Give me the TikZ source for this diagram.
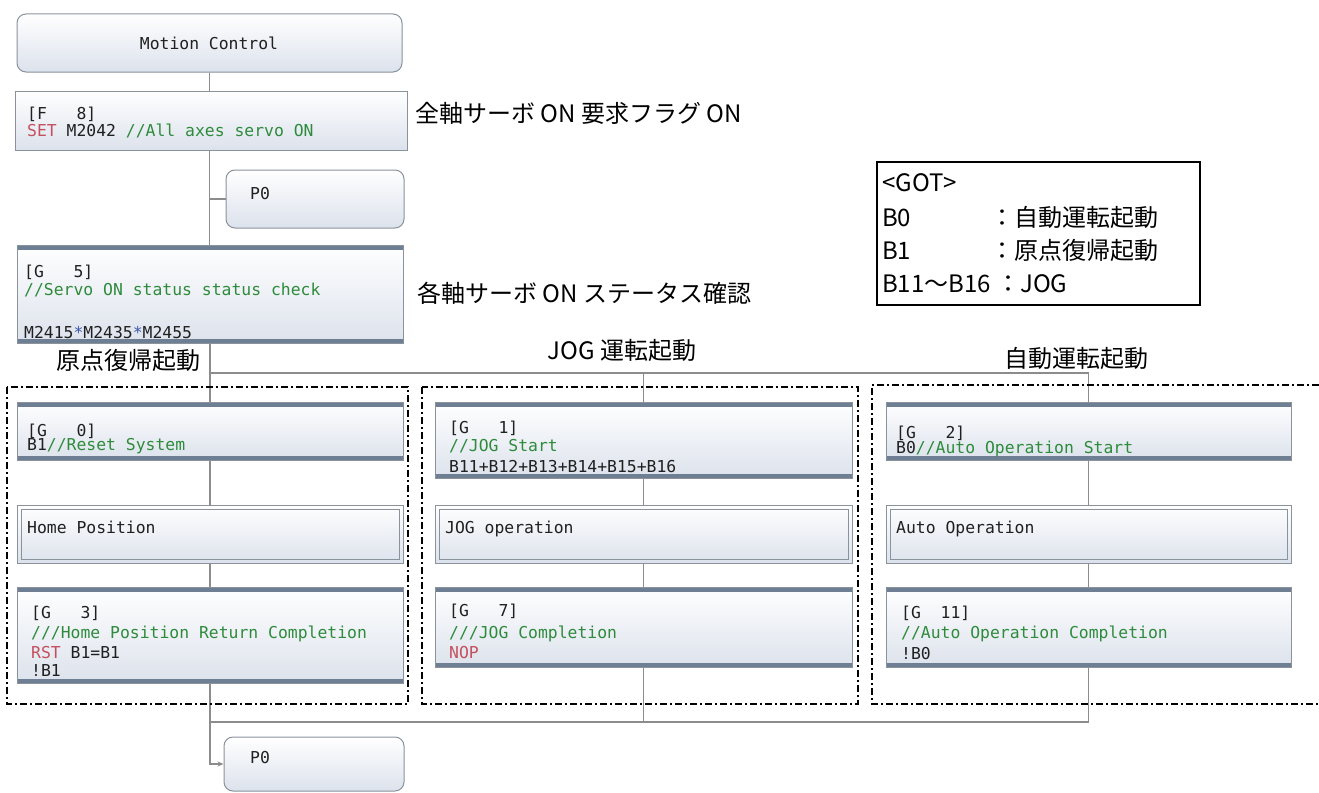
\documentclass[tikz,border=0pt]{standalone}
\usepackage{fontspec}
\setmonofont{DejaVu Sans Mono}
\newfontfamily\jp{Noto Sans CJK JP}
\usetikzlibrary{arrows.meta}
\definecolor{edge}{HTML}{8A929C}
\definecolor{barc}{HTML}{6E7E93}
\definecolor{boxbot}{HTML}{DCE2EC}
\definecolor{wire}{HTML}{8C8C8C}
\definecolor{kw}{HTML}{C4505E}
\definecolor{cmt}{HTML}{2E8B3C}
\definecolor{opc}{HTML}{3A55A8}
\definecolor{ink}{HTML}{202020}
\tikzset{
  boxbase/.style={rectangle, draw=edge, line width=1pt, top color=white, bottom color=boxbot, inner sep=0pt},
  rbox/.style={boxbase, rounded corners=9pt},
  plainbox/.style={boxbase},
  gbox/.style={boxbase, path picture={
     \fill[barc] (path picture bounding box.north west) rectangle ([yshift=-5pt]path picture bounding box.north east);
     \fill[barc] ([yshift=4pt]path picture bounding box.south west) rectangle (path picture bounding box.south east);}},
  subbox/.style={boxbase, path picture={
     \draw[edge, line width=1pt] ([shift={(4pt,-4pt)}]path picture bounding box.north west) rectangle ([shift={(-4pt,4pt)}]path picture bounding box.south east);}},
  mono/.style={font=\ttfamily\fontsize{16.4}{19}\selectfont, text=ink, inner sep=0pt, anchor=west, text height=12pt, text depth=0pt},
  jpl/.style={font=\jp\fontsize{24}{28}\selectfont, text=black, inner sep=0pt, anchor=west, text height=18pt, text depth=0pt},
  wire/.style={draw=wire, line width=1.3pt},
  dashdot/.style={draw=black, line width=1.3pt, dash pattern=on 7pt off 3pt on 2pt off 3pt}
}
\begin{document}
\begin{tikzpicture}[x=1pt,y=-1pt]
\useasboundingbox (0,0) rectangle (1319,792);
\fill[white] (0,0) rectangle (1319,792);

% ---- boxes ----
\node[rbox, minimum width=385pt, minimum height=58pt] (mc) at (209.5,43) {};
\node[plainbox, minimum width=392pt, minimum height=59pt] (f8) at (211,120.5) {};
\node[rbox, minimum width=178pt, minimum height=58pt] (p0a) at (315,199) {};
\node[gbox, minimum width=386pt, minimum height=98pt] (g5) at (210,294) {};

\node[gbox, minimum width=386pt, minimum height=58pt] (g0) at (210,431) {};
\node[subbox, minimum width=386pt, minimum height=58pt] (home) at (210,534) {};
\node[gbox, minimum width=386pt, minimum height=96pt] (g3) at (210,635) {};

\node[gbox, minimum width=417pt, minimum height=76pt] (g1) at (643.5,440) {};
\node[subbox, minimum width=417pt, minimum height=58pt] (jogop) at (643.5,534) {};
\node[gbox, minimum width=417pt, minimum height=80pt] (g7) at (643.5,627) {};

\node[gbox, minimum width=405pt, minimum height=58pt] (g2) at (1088.5,431) {};
\node[subbox, minimum width=405pt, minimum height=58pt] (auto) at (1088.5,534) {};
\node[gbox, minimum width=405pt, minimum height=80pt] (g11) at (1088.5,627) {};

\node[rbox, minimum width=180pt, minimum height=54pt] (p0b) at (314,764) {};

% ---- connectors ----
\coordinate (br) at (210,373);
\coordinate (mg) at (210,722);
\draw[wire] (mc.south) -- (mc.south |- f8.north);
\draw[wire] (mc.south |- f8.south) -- (mc.south |- g5.north);
\draw[wire] (mc.south |- p0a.west) -- (p0a.west);
\draw[wire] (g5.south) -- (g0.north);
\draw[wire] (g5.south |- br) -| (g2.north);
\draw[wire] (g1.north |- br) -- (g1.north);
\draw[wire] (g0.south) -- (home.north);
\draw[wire] (home.south) -- (g3.north);
\draw[wire] (g1.south) -- (jogop.north);
\draw[wire] (jogop.south) -- (g7.north);
\draw[wire] (g2.south) -- (auto.north);
\draw[wire] (auto.south) -- (g11.north);
\draw[wire, -{Stealth[length=6pt,width=5pt]}] (g3.south) |- (p0b.west);
\draw[wire] (g3.south |- mg) -| (g11.south);
\draw[wire] (g7.south) -- (g7.south |- mg);

% ---- box texts ----
\node[mono, anchor=center] (mct) at (209,43) {Motion Control};
\node[mono] (f8a) at (27,113) {[F~~~8]};
\node[mono] (f8b) at (27,130) {{\color{kw}SET} M2042 {\color{cmt}//All axes servo ON}};
\node[mono] (p0at) at (250,193) {P0};
\node[mono] (g5a) at (24,271) {[G~~~5]};
\node[mono] (g5b) at (24,289) {\color{cmt}//Servo ON status status check};
\node[mono] (g5c) at (24,332) {M2415{\color{opc}*}M2435{\color{opc}*}M2455};

\node[mono] (g0a) at (27,430) {[G~~~0]};
\node[mono] (g0b) at (27,444) {B1{\color{cmt}//Reset System}};
\node[mono] (homet) at (27,527) {Home Position};
\node[mono] (g3a) at (31,612) {[G~~~3]};
\node[mono] (g3b) at (31,632) {\color{cmt}///Home Position Return Completion};
\node[mono] (g3c) at (31,652) {{\color{kw}RST} B1=B1};
\node[mono] (g3d) at (31,670) {!B1};

\node[mono] (g1a) at (449,427) {[G~~~1]};
\node[mono] (g1b) at (449,445) {\color{cmt}//JOG Start};
\node[mono] (g1c) at (449,466) {B11+B12+B13+B14+B15+B16};
\node[mono] (jogt) at (445,527) {JOG operation};
\node[mono] (g7a) at (449,610) {[G~~~7]};
\node[mono] (g7b) at (449,632) {\color{cmt}///JOG Completion};
\node[mono] (g7c) at (449,652) {\color{kw}NOP};

\node[mono] (g2a) at (896,432) {[G~~~2]};
\node[mono] (g2b) at (896,447) {B0{\color{cmt}//Auto Operation Start}};
\node[mono] (autot) at (896,527) {Auto Operation};
\node[mono] (g11a) at (901,612) {[G~~11]};
\node[mono] (g11b) at (901,632) {\color{cmt}//Auto Operation Completion};
\node[mono] (g11c) at (901,653) {!B0};

\node[mono] (p0bt) at (250,757) {P0};

% ---- Japanese annotations ----
\node[jpl] (lab1) at (415,113) {全軸サーボ ON 要求フラグ ON};
\node[jpl] (lab2) at (417,293) {各軸サーボ ON ステータス確認};
\node[jpl, anchor=center] (lab3) at (622,350) {JOG 運転起動};
\node[jpl, anchor=center] (lab4) at (1076,358) {自動運転起動};
\node[jpl, anchor=center] (lab5) at (128,360) {原点復帰起動};

% ---- GOT legend ----
\node[draw=black, line width=1.3pt, minimum width=323pt, minimum height=143pt, inner sep=0pt] (got) at (1038.5,233.5) {};
\node[jpl] (got0) at (882,182) {<GOT>};
\node[jpl] (got1k) at (882,217) {B0};
\node[jpl] (got1v) at (990,217) {：自動運転起動};
\node[jpl] (got2k) at (882,250) {B1};
\node[jpl] (got2v) at (990,250) {：原点復帰起動};
\node[jpl] (got3k) at (882,283) {B11～B16};
\node[jpl] (got3v) at (996,283) {：JOG};

% ---- dash-dot groups ----
\draw[dashdot] (7,387) rectangle (408,704);
\draw[dashdot] (422,387) rectangle (858,704);
\draw[dashdot] (1319,385) -- (872,385) -- (872,704) -- (1319,704);
\end{tikzpicture}
\end{document}
